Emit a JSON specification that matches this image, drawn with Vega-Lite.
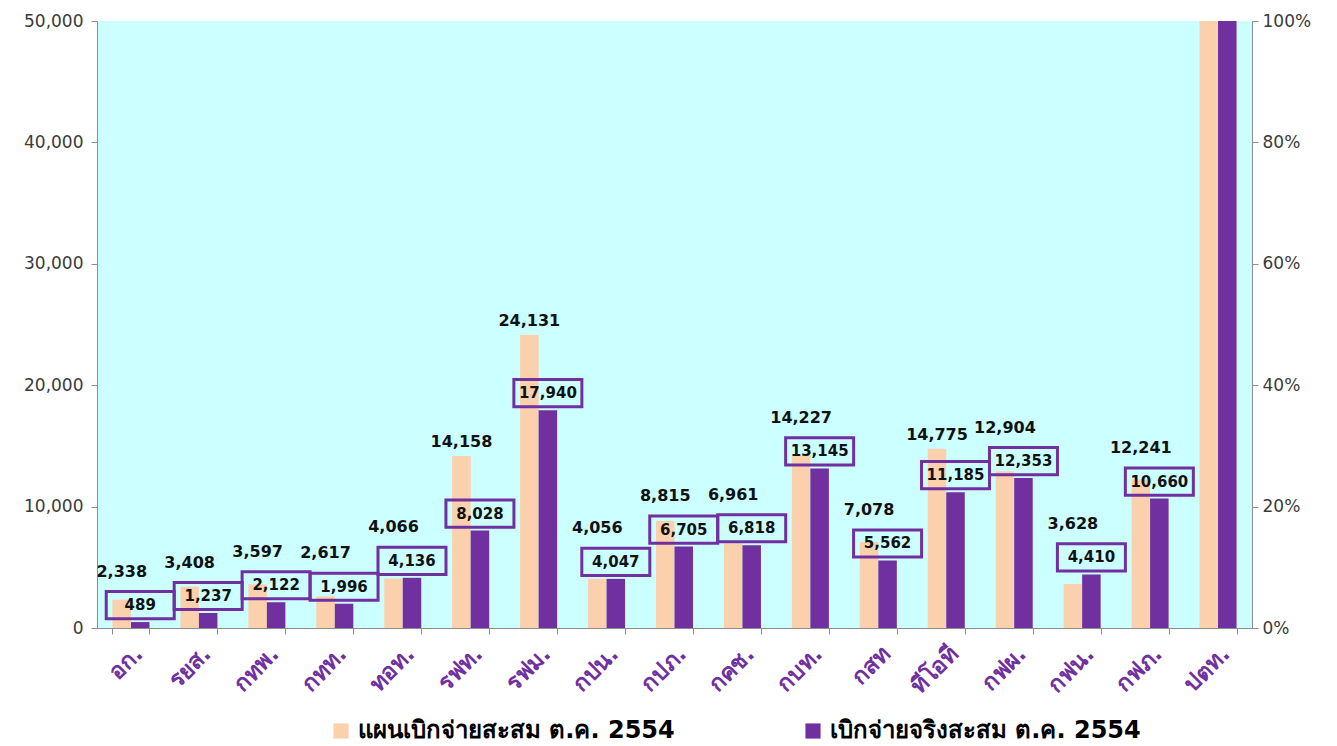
{
  "$schema": "https://vega.github.io/schema/vega-lite/v6.json",
  "width": 1155,
  "height": 607,
  "autosize": {"type": "none"},
  "padding": {"left": 97, "top": 21, "right": 85, "bottom": 118},
  "background": "white",
  "config": {"view": {"fill": "#CCFFFF", "stroke": null}, "font": "DejaVu Sans"},
  "layer": [
    {
      "data": {"values": [
        {"org": "อก.", "series": "แผนเบิกจ่ายสะสม ต.ค. 2554", "value": 2338},
        {"org": "อก.", "series": "เบิกจ่ายจริงสะสม ต.ค. 2554", "value": 489},
        {"org": "รยส.", "series": "แผนเบิกจ่ายสะสม ต.ค. 2554", "value": 3408},
        {"org": "รยส.", "series": "เบิกจ่ายจริงสะสม ต.ค. 2554", "value": 1237},
        {"org": "กทพ.", "series": "แผนเบิกจ่ายสะสม ต.ค. 2554", "value": 3597},
        {"org": "กทพ.", "series": "เบิกจ่ายจริงสะสม ต.ค. 2554", "value": 2122},
        {"org": "กทท.", "series": "แผนเบิกจ่ายสะสม ต.ค. 2554", "value": 2617},
        {"org": "กทท.", "series": "เบิกจ่ายจริงสะสม ต.ค. 2554", "value": 1996},
        {"org": "ทอท.", "series": "แผนเบิกจ่ายสะสม ต.ค. 2554", "value": 4066},
        {"org": "ทอท.", "series": "เบิกจ่ายจริงสะสม ต.ค. 2554", "value": 4136},
        {"org": "รฟท.", "series": "แผนเบิกจ่ายสะสม ต.ค. 2554", "value": 14158},
        {"org": "รฟท.", "series": "เบิกจ่ายจริงสะสม ต.ค. 2554", "value": 8028},
        {"org": "รฟม.", "series": "แผนเบิกจ่ายสะสม ต.ค. 2554", "value": 24131},
        {"org": "รฟม.", "series": "เบิกจ่ายจริงสะสม ต.ค. 2554", "value": 17940},
        {"org": "กปน.", "series": "แผนเบิกจ่ายสะสม ต.ค. 2554", "value": 4056},
        {"org": "กปน.", "series": "เบิกจ่ายจริงสะสม ต.ค. 2554", "value": 4047},
        {"org": "กปภ.", "series": "แผนเบิกจ่ายสะสม ต.ค. 2554", "value": 8815},
        {"org": "กปภ.", "series": "เบิกจ่ายจริงสะสม ต.ค. 2554", "value": 6705},
        {"org": "กคช.", "series": "แผนเบิกจ่ายสะสม ต.ค. 2554", "value": 6961},
        {"org": "กคช.", "series": "เบิกจ่ายจริงสะสม ต.ค. 2554", "value": 6818},
        {"org": "กบท.", "series": "แผนเบิกจ่ายสะสม ต.ค. 2554", "value": 14227},
        {"org": "กบท.", "series": "เบิกจ่ายจริงสะสม ต.ค. 2554", "value": 13145},
        {"org": "กสท", "series": "แผนเบิกจ่ายสะสม ต.ค. 2554", "value": 7078},
        {"org": "กสท", "series": "เบิกจ่ายจริงสะสม ต.ค. 2554", "value": 5562},
        {"org": "ทีโอที", "series": "แผนเบิกจ่ายสะสม ต.ค. 2554", "value": 14775},
        {"org": "ทีโอที", "series": "เบิกจ่ายจริงสะสม ต.ค. 2554", "value": 11185},
        {"org": "กฟผ.", "series": "แผนเบิกจ่ายสะสม ต.ค. 2554", "value": 12904},
        {"org": "กฟผ.", "series": "เบิกจ่ายจริงสะสม ต.ค. 2554", "value": 12353},
        {"org": "กฟน.", "series": "แผนเบิกจ่ายสะสม ต.ค. 2554", "value": 3628},
        {"org": "กฟน.", "series": "เบิกจ่ายจริงสะสม ต.ค. 2554", "value": 4410},
        {"org": "กฟภ.", "series": "แผนเบิกจ่ายสะสม ต.ค. 2554", "value": 12241},
        {"org": "กฟภ.", "series": "เบิกจ่ายจริงสะสม ต.ค. 2554", "value": 10660},
        {"org": "ปตท.", "series": "แผนเบิกจ่ายสะสม ต.ค. 2554", "value": 60000},
        {"org": "ปตท.", "series": "เบิกจ่ายจริงสะสม ต.ค. 2554", "value": 55000}
      ]},
      "encoding": {
        "x": {
          "field": "org", "type": "nominal", "sort": null,
          "scale": {"paddingInner": 0.455, "paddingOuter": 0.2275},
          "axis": {
            "title": null, "labelAngle": -45, "labelFontSize": 23, "labelFontWeight": "bold",
            "labelColor": "#7030A0", "tickBand": "extent", "tickColor": "#8c8c8c", "tickSize": 6,
            "domainColor": "#8c8c8c", "labelPadding": 8
          }
        },
        "xOffset": {
          "field": "series", "type": "nominal",
          "scale": {"domain": ["แผนเบิกจ่ายสะสม ต.ค. 2554", "เบิกจ่ายจริงสะสม ต.ค. 2554"], "paddingInner": 0, "paddingOuter": 0}
        },
        "y": {
          "field": "value", "type": "quantitative",
          "scale": {"domain": [0, 50000], "nice": false},
          "axis": {
            "title": null, "format": ",d", "values": [0, 10000, 20000, 30000, 40000, 50000],
            "labelFontSize": 17, "labelColor": "#3a3a3a", "tickColor": "#8c8c8c", "tickSize": 6,
            "domainColor": "#8c8c8c", "labelPadding": 8, "grid": false
          }
        }
      },
      "layer": [
        {
          "mark": {"type": "bar", "clip": true},
          "encoding": {
            "color": {
              "field": "series", "type": "nominal",
              "scale": {"domain": ["แผนเบิกจ่ายสะสม ต.ค. 2554", "เบิกจ่ายจริงสะสม ต.ค. 2554"], "range": ["#FBD0AC", "#7030A0"]},
              "legend": {
                "title": null, "orient": "none", "legendX": 232, "legendY": 698, "direction": "horizontal",
                "symbolType": "square", "symbolSize": 230, "symbolStrokeWidth": 0, "labelFontSize": 24,
                "labelFontWeight": "bold", "labelColor": "#000000", "labelLimit": 0, "columnPadding": 126,
                "padding": 0, "labelOffset": 5
              }
            }
          }
        },
        {
          "transform": [
            {"calculate": "datum.series === 'เบิกจ่ายจริงสะสม ต.ค. 2554' ? datum.value : 0", "as": "act"},
            {"joinaggregate": [{"op": "max", "field": "act", "as": "actMax"}], "groupby": ["org"]},
            {"filter": "datum.series === 'แผนเบิกจ่ายสะสม ต.ค. 2554' && datum.value <= 50000"},
            {"calculate": "max(datum.value, datum.actMax + 3000)", "as": "labelPos"}
          ],
          "mark": {"type": "text", "clip": true, "baseline": "bottom", "dy": -6, "fontWeight": "bold", "fontSize": 16, "color": "#111111"},
          "encoding": {
            "y": {"field": "labelPos", "type": "quantitative"},
            "text": {"field": "value", "type": "quantitative", "format": ","}
          }
        },
        {
          "transform": [{"filter": "datum.series === 'เบิกจ่ายจริงสะสม ต.ค. 2554' && datum.value <= 50000"}],
          "mark": {"type": "point", "clip": true, "shape": "M-1,-0.4H1V0.4H-1Z", "filled": false, "stroke": "#7030A0", "strokeWidth": 3, "size": 4624, "yOffset": -17, "opacity": 1},
          "encoding": {}
        },
        {
          "transform": [{"filter": "datum.series === 'เบิกจ่ายจริงสะสม ต.ค. 2554' && datum.value <= 50000"}],
          "mark": {"type": "text", "clip": true, "baseline": "middle", "dy": -17, "fontWeight": "bold", "fontSize": 15, "color": "#111111"},
          "encoding": {"text": {"field": "value", "type": "quantitative", "format": ","}}
        }
      ]
    },
    {
      "data": {"values": [{"p": 0}]},
      "mark": {"type": "point", "opacity": 0},
      "encoding": {
        "y": {
          "field": "p", "type": "quantitative",
          "scale": {"domain": [0, 1], "nice": false},
          "axis": {
            "orient": "right", "title": null, "format": ".0%", "values": [0, 0.2, 0.4, 0.6, 0.8, 1],
            "labelFontSize": 17, "labelColor": "#3a3a3a", "tickColor": "#8c8c8c", "tickSize": 6,
            "domainColor": "#8c8c8c", "labelPadding": 4, "grid": false
          }
        }
      }
    }
  ],
  "resolve": {"scale": {"y": "independent"}}
}
